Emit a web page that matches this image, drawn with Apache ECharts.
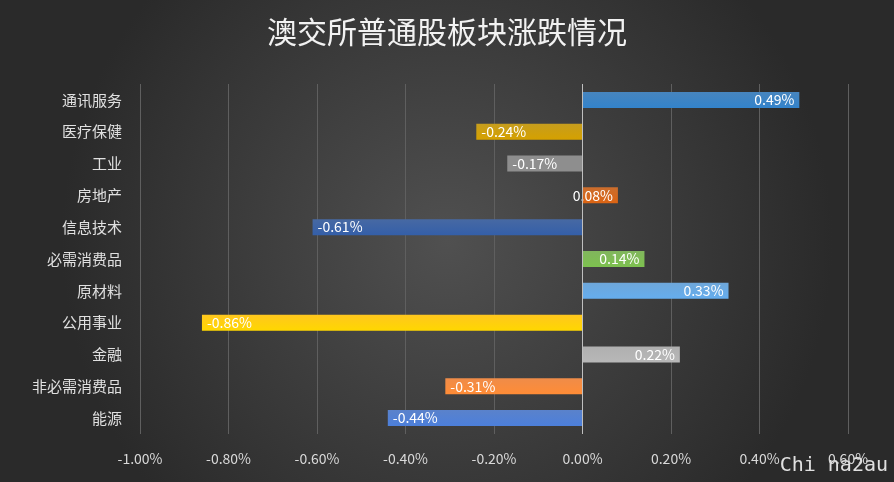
<!DOCTYPE html>
<html><head><meta charset="utf-8">
<script src="https://cdn.jsdelivr.net/npm/echarts@6/dist/echarts.min.js"></script>
<style>html,body{margin:0;padding:0;background:#333}#c{width:894px;height:482px}</style>
</head><body><div id="c"></div>
<script>
var categories = ['通讯服务','医疗保健','工业','房地产','信息技术','必需消费品','原材料','公用事业','金融','非必需消费品','能源'];
var values = [0.49,-0.24,-0.17,0.08,-0.61,0.14,0.33,-0.86,0.22,-0.31,-0.44];
var colors = ['#2e75b6','#bf9000','#7f7f7f','#c55a11','#2f5597','#70ad47','#5b9bd5','#ffc000','#a5a5a5','#ed7d31','#4472c4'];

var chart = echarts.init(document.getElementById('c'));
var font = '"Noto Sans CJK SC", "Noto Sans", sans-serif';
chart.setOption({
  backgroundColor: new echarts.graphic.RadialGradient(0.5, 0.5, 0.8, [
    {offset: 0, color: '#505050'}, {offset: 1, color: '#2a2a2a'}]),
  title: {text: '澳交所普通股板块涨跌情况', left: 'center', top: 12,
    textStyle: {color: '#f2f2f2', fontSize: 30, fontWeight: 'normal', fontFamily: font}},
  graphic: [{type: 'text', right: 6, bottom: 6,
    style: {text: 'Chi na2au', fill: '#e0e0e0', fontSize: 20, fontFamily: 'DejaVu Sans Mono'}}],
  grid: {left: 140, right: 46, top: 84, bottom: 48},
  xAxis: {type: 'value', min: -1, max: 0.6, interval: 0.2,
    axisLabel: {color: '#d9d9d9', fontSize: 14, fontFamily: font, margin: 18,
      formatter: function (v) { return v.toFixed(2) + '%'; }},
    axisLine: {show: false}, axisTick: {show: false},
    splitLine: {lineStyle: {color: '#5f5f5f', width: 1}}},
  yAxis: {type: 'category', data: categories, inverse: true,
    axisLine: {show: false}, axisTick: {show: false},
    axisLabel: {color: '#e0e0e0', fontSize: 15, fontFamily: font, margin: 18}},
  series: [{type: 'bar', barWidth: 16,
    data: values.map(function (v, i) {
      return {value: v,
        itemStyle: {color: new echarts.graphic.LinearGradient(0, 0, 0, 1, [
          {offset: 0, color: echarts.color.lift(colors[i], 0.12)},
          {offset: 1, color: echarts.color.lift(colors[i], -0.12)}])},
        label: {position: v >= 0 ? 'insideRight' : 'insideLeft'}};
    }),
    label: {show: true, color: '#ffffff', fontSize: 14, fontFamily: font,
      formatter: function (p) { return p.value.toFixed(2) + '%'; }},
    markLine: {silent: true, symbol: 'none', label: {show: false},
      lineStyle: {color: '#bfbfbf', type: 'solid', width: 1},
      data: [{xAxis: 0}]}
  }]
});
</script></body></html>
